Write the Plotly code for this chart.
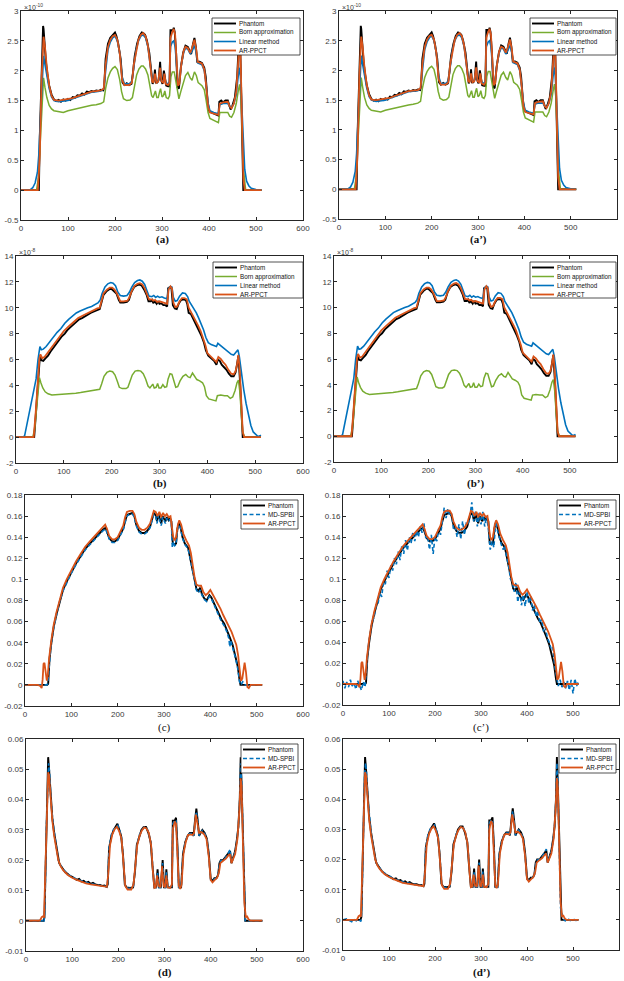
import plotly.graph_objects as go

W, H = 624, 981

# ---------------- data ----------------
X_TICKS = [0, 100, 200, 300, 400, 500, 600]
X_TICK_LABELS = ["0", "100", "200", "300", "400", "500", "600"]
A_Y_TICKS = [-0.5, 0, 0.5, 1, 1.5, 2, 2.5, 3]
A_Y_TICK_LABELS = ["-0.5", "0", "0.5", "1", "1.5", "2", "2.5", "3"]
B_Y_TICKS = [-2, 0, 2, 4, 6, 8, 10, 12, 14]
B_Y_TICK_LABELS = ["-2", "0", "2", "4", "6", "8", "10", "12", "14"]
C_Y_TICKS = [-0.02, 0, 0.02, 0.04, 0.06, 0.08, 0.1, 0.12, 0.14, 0.16, 0.18]
C_Y_TICK_LABELS = ["-0.02", "0", "0.02", "0.04", "0.06", "0.08", "0.1", "0.12", "0.14", "0.16", "0.18"]
D_Y_TICKS = [-0.01, 0, 0.01, 0.02, 0.03, 0.04, 0.05, 0.06]
D_Y_TICK_LABELS = ["-0.01", "0", "0.01", "0.02", "0.03", "0.04", "0.05", "0.06"]

LEGEND_AB = ["Phantom", "Born approximation", "Linear method", "AR-PPCT"]
LEGEND_CD = ["Phantom", "MD-SPBI", "AR-PPCT"]
CAPTIONS = ["(a)", "(a’)", "(b)", "(b’)", "(c)", "(c’)", "(d)", "(d’)"]
EXPONENTS = ["×10<sup>-10</sup>", "×10<sup>-10</sup>", "×10<sup>-8</sup>", "×10<sup>-8</sup>", "", "", "", ""]

# panel (a)/(a'), units of 1e-10
A_PHANTOM = [(0,0),(38,0),(40,0.9),(44,2.2),(47,2.75),(48,2.7),(50,2.45),(53,2.15),(56,1.95),(60,1.75),(65,1.6),(70,1.52),(75,1.49),(80,1.51),(85,1.48),(90,1.52),(95,1.5),(100,1.53),(105,1.51),(110,1.56),(115,1.55),(120,1.59),(125,1.58),(130,1.62),(135,1.6),(140,1.65),(145,1.64),(150,1.66),(155,1.65),(160,1.67),(165,1.66),(170,1.68),(175,1.67),(177,1.72),(180,2.2),(185,2.45),(190,2.55),(195,2.6),(200,2.64),(203,2.58),(207,2.45),(212,2.2),(216,1.8),(220,1.76),(225,1.79),(230,1.76),(235,1.78),(238,1.95),(242,2.25),(247,2.45),(252,2.58),(257,2.64),(260,2.63),(264,2.6),(268,2.5),(273,2.3),(277,1.95),(280,1.78),(283,1.85),(285,2.02),(287,1.8),(290,1.8),(293,1.85),(296,2.15),(298,1.85),(301,1.78),(304,2.0),(306,1.9),(309,1.75),(313,1.74),(316,1.74),(318,2.68),(321,2.68),(323,2.65),(325,2.72),(327,2.65),(330,2.3),(333,1.72),(336,1.7),(340,2.05),(345,2.3),(350,2.42),(355,2.4),(358,2.35),(362,2.28),(366,2.45),(369,2.55),(372,2.4),(375,2.15),(380,2.15),(385,2.13),(390,2.05),(393,1.9),(397,1.5),(400,1.33),(405,1.3),(410,1.28),(415,1.27),(420,1.25),(422,1.48),(426,1.5),(430,1.47),(435,1.5),(440,1.5),(443,1.42),(446,1.35),(450,1.42),(455,1.55),(460,1.9),(463,2.4),(465,2.75),(467,2.2),(470,1.0),(473,0),(475,0),(512,0)]
A_BORN = [(0,0),(33,0),(37,0.2),(41,0.9),(45,1.6),(48,1.88),(51,1.72),(55,1.55),(60,1.42),(65,1.36),(70,1.33),(80,1.32),(90,1.3),(100,1.33),(110,1.35),(120,1.37),(130,1.39),(140,1.41),(150,1.42),(160,1.43),(170,1.45),(176,1.48),(180,1.7),(185,1.88),(190,1.98),(195,2.04),(200,2.07),(205,2.02),(210,1.85),(214,1.65),(218,1.53),(225,1.5),(232,1.51),(237,1.55),(241,1.75),(246,1.93),(251,2.03),(256,2.08),(260,2.08),(265,2.03),(270,1.93),(274,1.75),(278,1.58),(281,1.55),(284,1.62),(286,1.66),(289,1.55),(292,1.55),(295,1.65),(297,1.7),(300,1.56),(303,1.58),(306,1.66),(309,1.55),(313,1.53),(316,1.58),(319,1.9),(322,1.98),(326,1.98),(330,1.8),(333,1.6),(336,1.53),(340,1.65),(345,1.8),(350,1.92),(355,1.97),(360,1.88),(364,1.84),(369,1.98),(373,1.92),(377,1.8),(385,1.75),(390,1.68),(394,1.5),(398,1.3),(402,1.2),(410,1.17),(420,1.13),(423,1.3),(430,1.3),(440,1.3),(444,1.24),(448,1.22),(453,1.3),(458,1.45),(462,1.65),(465,1.77),(468,1.55),(471,0.9),(474,0.3),(478,0),(512,0)]
A_LINEAR = [(0,0),(20,0.01),(25,0.04),(30,0.12),(35,0.3),(38,0.6),(42,1.3),(45,1.9),(48,2.25),(51,2.1),(55,1.9),(60,1.7),(65,1.56),(70,1.5),(80,1.48),(90,1.49),(100,1.5),(110,1.53),(120,1.56),(130,1.59),(140,1.62),(150,1.64),(160,1.65),(170,1.66),(176,1.7),(180,2.05),(185,2.35),(190,2.48),(195,2.55),(200,2.58),(205,2.5),(210,2.3),(215,1.9),(220,1.78),(230,1.78),(236,1.82),(240,2.1),(245,2.35),(250,2.5),(255,2.58),(260,2.6),(265,2.55),(270,2.4),(275,2.1),(279,1.85),(282,1.82),(285,1.92),(288,1.82),(292,1.83),(296,1.98),(299,1.83),(303,1.82),(305,1.9),(308,1.8),(313,1.78),(316,1.82),(318,2.4),(322,2.48),(325,2.5),(328,2.4),(331,2.0),(334,1.8),(337,1.82),(341,2.1),(346,2.3),(350,2.38),(355,2.36),(360,2.28),(364,2.33),(369,2.42),(373,2.3),(376,2.13),(385,2.1),(390,2.0),(394,1.75),(398,1.45),(402,1.33),(410,1.3),(420,1.28),(423,1.43),(430,1.45),(440,1.45),(444,1.4),(448,1.38),(453,1.45),(458,1.6),(462,1.9),(465,2.05),(467,1.9),(470,1.3),(473,0.7),(476,0.35),(480,0.15),(485,0.07),(490,0.03),(500,0.01),(512,0)]
A_ARPPCT = [(0,0),(36,0),(40,0.6),(44,1.9),(48,2.57),(51,2.4),(55,2.05),(60,1.75),(65,1.58),(70,1.51),(80,1.5),(90,1.51),(100,1.52),(110,1.54),(120,1.57),(130,1.6),(140,1.63),(150,1.65),(160,1.66),(170,1.67),(176,1.7),(180,2.1),(185,2.4),(190,2.52),(195,2.58),(200,2.6),(205,2.52),(210,2.3),(215,1.85),(220,1.76),(230,1.76),(236,1.8),(240,2.1),(245,2.35),(250,2.52),(255,2.6),(260,2.63),(265,2.58),(270,2.42),(275,2.1),(279,1.82),(282,1.8),(285,1.95),(288,1.8),(292,1.82),(296,2.05),(299,1.82),(303,1.8),(305,1.95),(308,1.78),(313,1.76),(316,1.8),(318,2.55),(322,2.65),(325,2.7),(328,2.6),(331,2.1),(334,1.75),(337,1.78),(341,2.1),(346,2.33),(350,2.4),(355,2.38),(360,2.3),(364,2.38),(369,2.52),(373,2.35),(376,2.15),(385,2.12),(390,2.02),(394,1.75),(398,1.4),(402,1.3),(410,1.28),(420,1.26),(423,1.45),(430,1.47),(440,1.48),(444,1.4),(448,1.37),(453,1.45),(458,1.65),(462,2.1),(465,2.5),(467,2.3),(470,1.2),(473,0.2),(476,0),(512,0)]

# panel (b)/(b'), units of 1e-8
B_PHANTOM = [(0,0),(38,0),(41,1.5),(45,4),(48,6.0),(50,6.3),(53,5.95),(57,5.9),(62,6.1),(67,6.3),(72,6.6),(78,6.9),(84,7.2),(90,7.5),(96,7.8),(102,8.0),(108,8.3),(114,8.5),(120,8.7),(126,8.9),(132,9.1),(138,9.2),(144,9.35),(150,9.5),(156,9.6),(162,9.7),(168,9.8),(175,9.9),(178,10.3),(183,11.0),(190,11.3),(196,11.45),(200,11.45),(205,11.3),(210,11.1),(215,10.6),(218,10.4),(225,10.4),(232,10.45),(236,10.6),(241,11.2),(247,11.6),(253,11.75),(258,11.8),(263,11.7),(268,11.4),(273,11.0),(277,10.5),(282,10.5),(285,10.6),(287,10.35),(290,10.5),(294,10.3),(297,10.5),(300,10.3),(304,10.35),(308,10.2),(312,10.2),(316,10.1),(318,11.5),(322,11.6),(325,11.5),(328,10.2),(332,9.95),(336,9.9),(340,10.3),(345,10.6),(350,10.65),(355,10.6),(358,10.3),(361,9.6),(366,9.5),(370,9.2),(374,8.8),(378,8.6),(383,8.2),(388,7.8),(393,7.3),(397,6.7),(402,6.3),(408,6.1),(414,5.9),(419,5.6),(422,6.0),(426,5.9),(430,5.6),(435,5.4),(440,5.2),(445,4.9),(450,4.7),(455,4.7),(459,5.0),(462,5.6),(465,6.3),(468,4.5),(471,2.0),(474,0),(512,0)]
B_BORN = [(0,0),(35,0),(39,0.6),(43,2.2),(46,3.8),(49,4.6),(52,4.2),(56,3.8),(61,3.5),(67,3.35),(75,3.25),(85,3.28),(95,3.27),(105,3.3),(115,3.35),(125,3.4),(135,3.45),(145,3.5),(155,3.55),(165,3.6),(175,3.7),(179,4.1),(184,4.7),(190,5.0),(196,5.1),(202,5.05),(207,4.8),(212,4.3),(216,3.85),(222,3.75),(230,3.75),(234,3.85),(238,4.3),(243,4.8),(249,5.1),(255,5.15),(261,5.1),(266,4.9),(271,4.5),(276,3.95),(280,3.8),(284,4.05),(286,4.1),(289,3.8),(293,3.85),(296,4.15),(299,3.8),(303,3.8),(307,4.05),(311,3.85),(315,3.9),(318,4.5),(322,4.9),(326,4.85),(330,4.3),(334,3.85),(338,3.9),(343,4.35),(349,4.7),(355,4.85),(360,4.65),(364,4.6),(369,4.95),(373,4.75),(378,4.45),(384,4.35),(390,4.2),(394,3.9),(398,3.2),(403,2.95),(410,2.9),(418,2.8),(421,3.2),(428,3.25),(436,3.2),(442,3.2),(448,3.0),(453,3.1),(458,3.6),(462,4.2),(465,4.4),(468,3.5),(471,1.8),(474,0.4),(478,0),(512,0)]
B_LINEAR = [(0,0),(14,0),(18,0.1),(22,0.8),(27,1.8),(32,2.7),(37,3.5),(42,4.5),(46,6.0),(50,7.0),(53,6.75),(57,6.8),(63,7.0),(70,7.35),(78,7.7),(86,8.1),(94,8.4),(102,8.8),(110,9.1),(118,9.35),(126,9.6),(134,9.75),(142,9.9),(150,10.0),(158,10.1),(166,10.25),(172,10.4),(176,10.6),(180,11.1),(186,11.6),(192,11.85),(198,11.95),(203,11.9),(208,11.7),(213,11.2),(218,10.95),(225,10.9),(232,10.95),(237,11.2),(242,11.6),(248,11.95),(254,12.1),(259,12.15),(264,12.05),(269,11.8),(274,11.3),(278,10.9),(284,10.85),(288,10.95),(292,10.8),(296,10.9),(300,10.8),(305,10.85),(310,10.75),(316,10.7),(319,11.5),(323,11.65),(326,11.6),(329,10.8),(333,10.5),(337,10.55),(342,10.9),(348,11.15),(354,11.1),(359,10.85),(362,10.5),(367,10.2),(372,9.95),(377,9.6),(382,9.2),(387,8.8),(392,8.3),(397,7.7),(402,7.3),(408,7.15),(414,7.05),(419,7.0),(422,7.25),(427,7.1),(432,6.9),(438,6.75),(444,6.6),(450,6.4),(455,6.35),(460,6.55),(464,6.75),(467,6.2),(471,5.0),(476,3.7),(481,2.6),(486,1.6),(491,0.9),(496,0.4),(501,0.2),(506,0.05),(510,0.1),(512,0.15)]
B_ARPPCT = [(0,0),(37,0),(41,1.8),(45,4.3),(49,6.1),(51,6.4),(55,6.1),(60,6.2),(66,6.5),(72,6.8),(80,7.2),(90,7.7),(100,8.2),(110,8.55),(120,8.9),(130,9.2),(140,9.4),(150,9.6),(160,9.8),(170,9.95),(175,10.0),(178,10.4),(183,11.1),(190,11.4),(196,11.55),(201,11.55),(206,11.4),(211,11.1),(215,10.7),(218,10.5),(225,10.5),(233,10.55),(237,10.8),(242,11.3),(248,11.7),(254,11.85),(259,11.9),(264,11.8),(269,11.5),(274,11.0),(278,10.65),(284,10.65),(287,10.55),(291,10.6),(295,10.45),(300,10.5),(305,10.45),(310,10.35),(316,10.3),(319,11.4),(323,11.65),(326,11.5),(329,10.4),(333,10.05),(337,10.1),(342,10.5),(347,10.75),(352,10.75),(357,10.65),(361,10.0),(366,9.65),(371,9.4),(376,9.0),(381,8.6),(386,8.2),(391,7.7),(396,7.1),(400,6.5),(407,6.25),(413,6.05),(419,5.8),(423,6.2),(428,6.05),(433,5.8),(438,5.6),(444,5.2),(450,4.9),(455,4.85),(459,5.1),(462,5.6),(465,6.35),(468,5.0),(471,2.5),(474,0.4),(477,0),(512,0)]

# panel (c)/(c')
C_PHANTOM = [(0,0),(48,0),(50,0.001),(53,0.025),(57,0.04),(62,0.055),(68,0.067),(75,0.08),(82,0.09),(90,0.098),(100,0.107),(110,0.115),(120,0.122),(130,0.129),(140,0.134),(150,0.139),(160,0.143),(168,0.147),(174,0.149),(177,0.145),(182,0.139),(188,0.136),(194,0.136),(200,0.138),(206,0.143),(212,0.148),(216,0.155),(220,0.161),(226,0.162),(232,0.163),(236,0.16),(240,0.152),(246,0.146),(252,0.144),(258,0.144),(264,0.146),(270,0.15),(275,0.158),(278,0.163),(282,0.161),(285,0.155),(288,0.162),(291,0.157),(294,0.153),(297,0.16),(300,0.157),(303,0.155),(306,0.159),(310,0.156),(313,0.158),(316,0.155),(319,0.134),(323,0.133),(326,0.134),(329,0.148),(332,0.153),(336,0.149),(340,0.14),(345,0.134),(352,0.13),(357,0.12),(362,0.108),(366,0.1),(370,0.091),(374,0.089),(378,0.092),(382,0.086),(387,0.082),(392,0.08),(398,0.085),(402,0.083),(407,0.078),(412,0.074),(418,0.068),(424,0.062),(430,0.058),(436,0.052),(442,0.045),(448,0.038),(454,0.028),(459,0.018),(463,0.005),(465,0),(512,0)]
C_MDSPBI = [(0,0),(47,0),(49,0.001),(52,0.02),(56,0.037),(61,0.052),(67,0.065),(74,0.078),(82,0.089),(90,0.097),(100,0.106),(110,0.114),(120,0.121),(130,0.128),(140,0.133),(150,0.138),(160,0.142),(168,0.146),(174,0.148),(177,0.144),(182,0.138),(188,0.135),(194,0.135),(200,0.137),(206,0.142),(212,0.147),(216,0.154),(220,0.16),(226,0.162),(232,0.162),(236,0.159),(240,0.151),(246,0.145),(252,0.143),(258,0.143),(264,0.145),(270,0.149),(275,0.157),(278,0.162),(282,0.16),(285,0.153),(288,0.161),(291,0.155),(294,0.151),(297,0.159),(300,0.155),(303,0.153),(306,0.158),(310,0.155),(313,0.157),(316,0.153),(318,0.13),(320,0.136),(323,0.132),(326,0.133),(329,0.147),(332,0.152),(336,0.148),(340,0.139),(345,0.133),(352,0.129),(357,0.119),(362,0.107),(366,0.098),(370,0.09),(374,0.087),(378,0.09),(382,0.085),(387,0.081),(392,0.079),(398,0.084),(402,0.082),(407,0.077),(412,0.072),(418,0.066),(424,0.06),(430,0.056),(436,0.05),(440,0.044),(442,0.036),(444,0.042),(448,0.036),(454,0.026),(459,0.016),(463,0.003),(466,0),(470,0.003),(475,0),(512,0)]
C_ARPPCT = [(0,0),(28,0),(33,-0.001),(36,-0.003),(38,0.005),(40,0.02),(42,0.021),(45,0.008),(47,0.004),(49,0.008),(52,0.025),(57,0.043),(62,0.057),(68,0.069),(75,0.082),(82,0.092),(90,0.1),(100,0.109),(110,0.117),(120,0.124),(130,0.131),(140,0.136),(150,0.141),(160,0.145),(168,0.149),(173,0.152),(177,0.148),(182,0.141),(188,0.138),(194,0.138),(200,0.14),(206,0.145),(212,0.151),(216,0.159),(220,0.164),(226,0.165),(232,0.165),(236,0.162),(240,0.155),(246,0.149),(252,0.147),(258,0.147),(264,0.149),(270,0.153),(275,0.161),(278,0.165),(282,0.164),(286,0.16),(290,0.164),(294,0.159),(298,0.163),(302,0.16),(306,0.162),(310,0.159),(314,0.16),(317,0.152),(320,0.14),(323,0.137),(326,0.14),(330,0.152),(333,0.156),(337,0.152),(342,0.143),(348,0.137),(354,0.132),(358,0.125),(362,0.112),(366,0.102),(370,0.095),(375,0.094),(380,0.094),(385,0.088),(390,0.085),(395,0.087),(400,0.09),(405,0.086),(410,0.081),(416,0.076),(422,0.072),(428,0.066),(434,0.061),(440,0.056),(446,0.05),(451,0.044),(456,0.038),(460,0.028),(463,0.015),(466,0.004),(469,0.006),(472,0.018),(474,0.021),(477,0.012),(480,-0.002),(483,-0.003),(487,0),(512,0)]
C2_MDSPBI = [(0,0.003),(4,-0.004),(8,0.002),(12,-0.003),(16,0.004),(20,-0.002),(24,0.001),(28,-0.005),(32,0.003),(36,-0.002),(40,-0.006),(44,0.002),(48,-0.003),(52,0.02),(56,0.04),(60,0.05),(64,0.06),(68,0.064),(72,0.075),(76,0.076),(80,0.087),(84,0.083),(88,0.097),(92,0.095),(96,0.108),(100,0.101),(104,0.113),(108,0.108),(112,0.12),(116,0.114),(120,0.126),(124,0.118),(128,0.132),(132,0.124),(136,0.137),(140,0.127),(144,0.14),(148,0.134),(152,0.145),(156,0.136),(160,0.146),(164,0.14),(168,0.15),(172,0.144),(176,0.153),(180,0.139),(184,0.141),(188,0.128),(192,0.142),(196,0.124),(200,0.14),(204,0.136),(208,0.148),(212,0.142),(216,0.158),(220,0.168),(224,0.158),(228,0.167),(232,0.16),(236,0.162),(240,0.148),(244,0.15),(248,0.14),(252,0.152),(256,0.138),(260,0.155),(264,0.142),(268,0.153),(272,0.152),(276,0.16),(280,0.173),(284,0.155),(288,0.165),(292,0.15),(296,0.163),(300,0.152),(304,0.164),(308,0.15),(312,0.16),(316,0.148),(320,0.128),(324,0.136),(328,0.13),(332,0.155),(336,0.146),(340,0.138),(344,0.133),(348,0.128),(352,0.132),(356,0.12),(360,0.113),(364,0.1),(368,0.098),(372,0.088),(376,0.097),(380,0.078),(384,0.09),(388,0.075),(392,0.085),(396,0.074),(400,0.088),(404,0.077),(408,0.084),(412,0.07),(416,0.075),(420,0.064),(424,0.07),(428,0.058),(432,0.062),(436,0.05),(440,0.054),(444,0.044),(448,0.04),(452,0.034),(456,0.036),(460,0.018),(464,0.008),(468,-0.002),(472,0.004),(476,-0.003),(480,0.002),(484,-0.004),(488,0.003),(492,-0.006),(496,0.004),(500,-0.009),(504,0.005),(508,-0.002),(512,0.003)]

# panel (d)/(d')
D_PHANTOM = [(0,0),(38,0),(40,0.001),(43,0.025),(46,0.045),(48,0.054),(50,0.05),(53,0.042),(57,0.034),(61,0.029),(65,0.025),(69,0.021),(72,0.019),(76,0.018),(80,0.017),(85,0.016),(90,0.0155),(95,0.0148),(100,0.0145),(105,0.014),(110,0.0135),(115,0.0138),(120,0.013),(125,0.0132),(130,0.0125),(135,0.0128),(140,0.0122),(145,0.0125),(150,0.012),(155,0.0118),(160,0.0118),(165,0.0115),(170,0.0116),(175,0.0112),(177,0.012),(180,0.024),(185,0.028),(190,0.03),(195,0.031),(198,0.032),(202,0.03),(206,0.028),(210,0.022),(214,0.012),(218,0.011),(225,0.0108),(232,0.011),(236,0.016),(240,0.025),(245,0.028),(250,0.03),(255,0.031),(260,0.031),(265,0.029),(270,0.026),(274,0.018),(278,0.011),(282,0.011),(285,0.017),(288,0.011),(292,0.011),(296,0.02),(299,0.011),(302,0.011),(304,0.017),(307,0.011),(312,0.011),(316,0.011),(318,0.033),(322,0.033),(325,0.034),(328,0.025),(331,0.011),(336,0.011),(340,0.022),(345,0.026),(350,0.028),(355,0.029),(360,0.029),(363,0.028),(366,0.033),(369,0.037),(372,0.033),(375,0.028),(378,0.029),(382,0.03),(387,0.029),(392,0.027),(396,0.022),(400,0.014),(404,0.013),(408,0.014),(412,0.014),(416,0.015),(419,0.019),(422,0.02),(427,0.02),(432,0.021),(437,0.022),(442,0.023),(445,0.019),(449,0.021),(453,0.023),(457,0.027),(460,0.031),(463,0.04),(465,0.054),(467,0.045),(470,0.025),(473,0.005),(475,0),(512,0)]
D_MDSPBI = [(0,0),(37,0),(39,-0.0005),(41,0.005),(44,0.03),(47,0.048),(49,0.052),(51,0.049),(54,0.04),(58,0.033),(62,0.028),(66,0.024),(70,0.02),(74,0.0185),(78,0.0175),(83,0.0165),(88,0.016),(93,0.015),(98,0.0148),(103,0.0142),(108,0.0138),(113,0.0135),(118,0.0132),(123,0.013),(128,0.0128),(133,0.0125),(138,0.0123),(143,0.0122),(148,0.012),(153,0.0118),(158,0.0117),(163,0.0115),(168,0.0115),(174,0.0112),(177,0.013),(180,0.024),(185,0.0285),(190,0.0302),(195,0.031),(199,0.0315),(203,0.0298),(207,0.0275),(211,0.02),(215,0.0115),(220,0.0108),(228,0.0107),(233,0.0115),(237,0.02),(241,0.0255),(246,0.0285),(251,0.03),(256,0.031),(261,0.0308),(266,0.029),(271,0.025),(275,0.016),(278,0.011),(282,0.011),(285,0.016),(288,0.011),(292,0.011),(296,0.019),(299,0.011),(302,0.011),(304,0.016),(307,0.011),(312,0.011),(316,0.0115),(318,0.032),(322,0.0332),(325,0.033),(328,0.024),(331,0.011),(336,0.0108),(340,0.022),(345,0.026),(350,0.0282),(355,0.0288),(360,0.0288),(363,0.028),(366,0.032),(369,0.036),(372,0.0325),(375,0.028),(378,0.029),(382,0.0298),(387,0.0288),(392,0.0268),(396,0.0215),(400,0.0135),(404,0.013),(408,0.0138),(412,0.014),(416,0.0148),(419,0.0185),(422,0.0198),(427,0.02),(432,0.0208),(437,0.022),(442,0.0235),(445,0.019),(449,0.021),(453,0.0228),(457,0.0268),(460,0.031),(463,0.04),(465,0.052),(467,0.046),(470,0.025),(473,0.004),(475,0),(512,0)]
D_ARPPCT = [(0,0),(30,0),(34,0.0012),(37,0.0015),(39,0.001),(42,0.02),(45,0.04),(48,0.049),(50,0.048),(53,0.041),(57,0.033),(61,0.028),(65,0.024),(70,0.02),(75,0.018),(80,0.0168),(90,0.0152),(100,0.0142),(110,0.0135),(120,0.0128),(130,0.0123),(140,0.012),(150,0.0118),(160,0.0115),(170,0.0113),(175,0.0112),(178,0.015),(182,0.025),(187,0.0285),(192,0.0302),(197,0.031),(202,0.0295),(207,0.027),(211,0.02),(215,0.0115),(220,0.0103),(228,0.0103),(233,0.012),(237,0.02),(241,0.025),(246,0.028),(251,0.0298),(256,0.0308),(261,0.0305),(266,0.029),(271,0.025),(275,0.016),(278,0.0108),(281,0.011),(284,0.015),(287,0.0115),(291,0.011),(295,0.018),(298,0.0115),(301,0.011),(304,0.015),(307,0.011),(312,0.0108),(316,0.012),(318,0.03),(322,0.0328),(325,0.032),(328,0.022),(331,0.0115),(334,0.0105),(337,0.012),(341,0.022),(346,0.026),(351,0.0283),(356,0.0285),(361,0.0283),(364,0.029),(368,0.035),(371,0.032),(375,0.029),(380,0.0293),(386,0.0285),(391,0.027),(396,0.021),(400,0.0135),(404,0.0127),(409,0.0135),(414,0.0142),(418,0.016),(421,0.019),(427,0.0198),(433,0.0205),(438,0.0215),(442,0.022),(445,0.019),(449,0.0205),(453,0.022),(458,0.027),(462,0.036),(465,0.047),(467,0.044),(470,0.025),(473,0.006),(476,0.0012),(479,0.0014),(482,0.0005),(486,0),(512,0)]
D2_MDSPBI_HEAD = [(0,0),(8,0.0003),(14,-0.0002),(19,-0.0006),(23,0.0002),(29,-0.0003),(33,0.0002)]
D2_MDSPBI_TAIL = [(478,0.0004),(483,-0.0003),(488,0.0005),(494,-0.0002),(500,0.0003),(506,-0.0002),(512,0)]

# ---------------- styling / layout ----------------
BLACK = "#000000"
GREEN = "#77AC30"
BLUE = "#0072BD"
ORANGE = "#D95319"
AXC = "#262626"
TICKC = "#3a3a3a"

# panel boxes in pixels: left, top, right, bottom
BOXES = [(21, 11, 303, 220), (339, 11, 617, 219),
         (16, 256, 303, 463), (334, 256, 617, 462),
         (25, 495, 303, 706), (343, 495, 619, 705),
         (26, 739, 303, 951), (343, 739, 619, 950)]
LEG_BOXES = [(212, 18, 300, 55), (530, 18, 616, 55),
             (213, 262, 303, 298), (530, 262, 616, 298),
             (241, 500, 298, 529), (557, 500, 616, 529),
             (241, 744, 298, 773), (559, 744, 616, 773)]
CAP_Y = [239, 239, 483, 483, 727, 727, 972, 972]
CAP_BOLD = [True, True, True, True, False, False, True, True]


def px(x):
    return x / W


def py(y):
    return 1 - y / H


def xs(pts):
    return [p[0] for p in pts]


def ys(pts):
    return [p[1] for p in pts]


AB_STYLES = [(BLACK, 1.9, "solid"), (GREEN, 1.5, "solid"), (BLUE, 1.6, "solid"), (ORANGE, 1.8, "solid")]
CD_STYLES = [(BLACK, 1.9, "solid"), (BLUE, 1.6, "4px,2.5px"), (ORANGE, 1.8, "solid")]

panel_series = [
    (A_PHANTOM, A_BORN, A_LINEAR, A_ARPPCT),
    (A_PHANTOM, A_BORN, A_LINEAR, A_ARPPCT),
    (B_PHANTOM, B_BORN, B_LINEAR, B_ARPPCT),
    (B_PHANTOM, B_BORN, B_LINEAR, B_ARPPCT),
    (C_PHANTOM, C_MDSPBI, C_ARPPCT),
    (C_PHANTOM, C2_MDSPBI, C_ARPPCT),
    (D_PHANTOM, D_MDSPBI, D_ARPPCT),
    (D_PHANTOM, D2_MDSPBI_HEAD + D_MDSPBI[2:-2] + D2_MDSPBI_TAIL, D_ARPPCT),
]
panel_yaxis = [
    ([-0.5, 3], A_Y_TICKS, A_Y_TICK_LABELS), ([-0.5, 3], A_Y_TICKS, A_Y_TICK_LABELS),
    ([-2, 14], B_Y_TICKS, B_Y_TICK_LABELS), ([-2, 14], B_Y_TICKS, B_Y_TICK_LABELS),
    ([-0.02, 0.18], C_Y_TICKS, C_Y_TICK_LABELS), ([-0.02, 0.18], C_Y_TICKS, C_Y_TICK_LABELS),
    ([-0.01, 0.06], D_Y_TICKS, D_Y_TICK_LABELS), ([-0.01, 0.06], D_Y_TICKS, D_Y_TICK_LABELS),
]

fig = go.Figure()
layout = dict(width=W, height=H, margin=dict(l=0, r=0, t=0, b=0), autosize=False,
              paper_bgcolor="white", plot_bgcolor="white", showlegend=False,
              font=dict(family="Liberation Sans, Arial, sans-serif", size=8, color=TICKC))
shapes = []
annotations = []

for i in range(8):
    n = i + 1
    xa = "x" if n == 1 else f"x{n}"
    ya = "y" if n == 1 else f"y{n}"
    l, t, r, b = BOXES[i]
    yr, yt, ytl = panel_yaxis[i]
    layout["xaxis" if n == 1 else f"xaxis{n}"] = dict(
        domain=[px(l), px(r)], anchor=ya, range=[0, 600], tickvals=X_TICKS, ticktext=X_TICK_LABELS,
        showline=True, mirror="ticks", linecolor=AXC, linewidth=1, ticks="inside", ticklen=3,
        tickcolor=AXC, tickwidth=1, showgrid=False, zeroline=False, automargin=False,
        tickfont=dict(size=8, color=TICKC))
    layout["yaxis" if n == 1 else f"yaxis{n}"] = dict(
        domain=[py(b), py(t)], anchor=xa, range=yr, tickvals=yt, ticktext=ytl,
        showline=True, mirror="ticks", linecolor=AXC, linewidth=1, ticks="inside", ticklen=3,
        tickcolor=AXC, tickwidth=1, showgrid=False, zeroline=False, automargin=False,
        tickfont=dict(size=8, color=TICKC))

    series = panel_series[i]
    styles = AB_STYLES if len(series) == 4 else CD_STYLES
    labels = LEGEND_AB if len(series) == 4 else LEGEND_CD
    for pts, (col, wid, dash), lab in zip(series, styles, labels):
        fig.add_trace(go.Scatter(x=xs(pts), y=ys(pts), mode="lines", name=lab,
                                 line=dict(color=col, width=wid, dash=dash),
                                 xaxis=xa, yaxis=ya, showlegend=False, hoverinfo="skip"))

    # legend box
    ll, lt, lr, lb = LEG_BOXES[i]
    shapes.append(dict(type="rect", xref="paper", yref="paper", x0=px(ll), x1=px(lr),
                       y0=py(lb), y1=py(lt), line=dict(color=AXC, width=0.8),
                       fillcolor="white", layer="above"))
    for k, ((col, wid, dash), lab) in enumerate(zip(styles, labels)):
        yc = lt + 5.5 + 9 * k
        shapes.append(dict(type="line", xref="paper", yref="paper", x0=px(ll + 2), x1=px(ll + 24),
                           y0=py(yc), y1=py(yc), line=dict(color=col, width=wid, dash=dash),
                           layer="above"))
        annotations.append(dict(text=lab, xref="paper", yref="paper", x=px(ll + 25), y=py(yc),
                                xanchor="left", yanchor="middle", showarrow=False,
                                font=dict(size=6.3, color="#111111",
                                          family="Liberation Sans, Arial, sans-serif")))

    # caption
    cap = CAPTIONS[i]
    annotations.append(dict(text=f"<b>{cap}</b>" if CAP_BOLD[i] else cap, xref="paper", yref="paper",
                            x=px((l + r) / 2), y=py(CAP_Y[i]), xanchor="center", yanchor="middle",
                            showarrow=False,
                            font=dict(size=11, color="#111111",
                                      family="Liberation Serif, Times New Roman, serif")))
    if EXPONENTS[i]:
        annotations.append(dict(text=EXPONENTS[i], xref="paper", yref="paper",
                                x=px(l + 1), y=py(t - 4), xanchor="left", yanchor="middle",
                                showarrow=False, font=dict(size=7, color=TICKC)))

layout["shapes"] = shapes
layout["annotations"] = annotations
fig.update_layout(**layout)
fig.write_html("out.html")
